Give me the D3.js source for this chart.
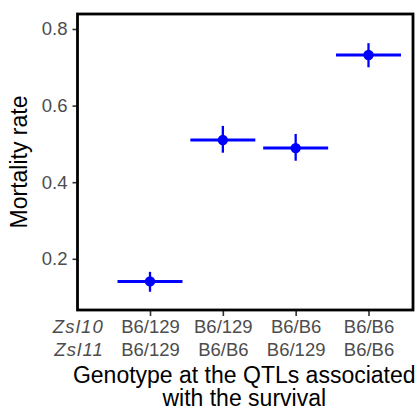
<!DOCTYPE html>
<html>
<head>
<meta charset="utf-8">
<script src="https://cdn.jsdelivr.net/npm/d3@7"></script>
<style>
  html, body { margin: 0; padding: 0; background: #fff; }
  svg { display: block; font-family: "Liberation Sans", Arial, Helvetica, sans-serif; }
</style>
</head>
<body>
<svg id="chart" width="420" height="410"></svg>
<script>
// ---- data ----
const zsl10Genotype = ["B6/129", "B6/129", "B6/B6", "B6/B6"];
const zsl11Genotype = ["B6/129", "B6/B6", "B6/129", "B6/B6"];
const mortalityRate = [0.141, 0.510, 0.489, 0.732];
const mortalityLower = [0.114, 0.477, 0.456, 0.700];
const mortalityUpper = [0.166, 0.547, 0.526, 0.763];
const yTickValues = [0.2, 0.4, 0.6, 0.8];
const locusNames = ["Zsl10", "Zsl11"];
const yTitle = "Mortality rate";
const xTitleLines = ["Genotype at the QTLs associated", "with the survival"];

// ---- layout ----
const svg = d3.select("#chart");
const panel = { left: 77.5, right: 413, top: 14, bottom: 310 };
const groups = d3.range(zsl10Genotype.length);

const x = d3.scalePoint()
  .domain(groups)
  .range([panel.left + 72.5, panel.right - 44.5]);
const step = x.step();

// y: 383 px per unit; 0.8 sits 15 px below the panel top
const y = d3.scaleLinear()
  .domain([0.8 + 15 / 383, 0.8 - (panel.bottom - 29) / 383])
  .range([panel.top, panel.bottom]);

const grey = "#4D4D4D";
const blue = "#0000FF";
const tickFont = 18.5;

// y axis
const yAxis = svg.append("g")
  .attr("transform", `translate(${panel.left},0)`)
  .call(d3.axisLeft(y).tickValues(yTickValues).tickFormat(d3.format(".1f")).tickSize(5).tickPadding(5));
yAxis.select(".domain").remove();
yAxis.selectAll(".tick line").attr("stroke", "#333").attr("stroke-width", 1.6);
yAxis.selectAll(".tick text")
  .attr("fill", grey)
  .style("font-size", tickFont + "px")
  .style("font-family", "'Liberation Sans', Arial, sans-serif");

// x axis
const xAxis = svg.append("g")
  .attr("transform", `translate(0,${panel.bottom})`)
  .call(d3.axisBottom(x).tickFormat(() => "").tickSize(6));
xAxis.select(".domain").remove();
xAxis.selectAll(".tick line").attr("stroke", "#333").attr("stroke-width", 1.6);
xAxis.selectAll(".tick").each(function(d) {
  const g = d3.select(this);
  g.select("text").remove();
  [zsl10Genotype[d], zsl11Genotype[d]].forEach((t, i) => {
    g.append("text")
      .attr("x", 0)
      .attr("y", 23 + i * 22.5)
      .attr("text-anchor", "middle")
      .attr("fill", grey)
      .style("font-size", tickFont + "px")
      .text(t);
  });
});

// locus labels (italic)
locusNames.forEach((name, i) => {
  svg.append("text")
    .attr("x", 104)
    .attr("y", panel.bottom + 23 + i * 22.5)
    .attr("text-anchor", "end")
    .attr("fill", grey)
    .style("font-size", tickFont + "px")
    .style("font-style", "italic")
    .style("letter-spacing", "1.2px")
    .text(name);
});

// panel border
svg.append("rect")
  .attr("x", panel.left)
  .attr("y", panel.top)
  .attr("width", panel.right - panel.left)
  .attr("height", panel.bottom - panel.top)
  .attr("fill", "none")
  .attr("stroke", "#000")
  .attr("stroke-width", 2.8);

// marks
const marks = svg.append("g");
marks.selectAll("line.h").data(groups).join("line")
  .attr("class", "h")
  .attr("x1", d => x(d) - step * 0.446)
  .attr("x2", d => x(d) + step * 0.446)
  .attr("y1", d => y(mortalityRate[d]))
  .attr("y2", d => y(mortalityRate[d]))
  .attr("stroke", blue)
  .attr("stroke-width", 3);
marks.selectAll("line.v").data(groups).join("line")
  .attr("class", "v")
  .attr("x1", d => x(d))
  .attr("x2", d => x(d))
  .attr("y1", d => y(mortalityLower[d]))
  .attr("y2", d => y(mortalityUpper[d]))
  .attr("stroke", blue)
  .attr("stroke-width", 2.3);
marks.selectAll("circle").data(groups).join("circle")
  .attr("cx", d => x(d))
  .attr("cy", d => y(mortalityRate[d]))
  .attr("r", 5.2)
  .attr("fill", blue);

// titles
svg.append("text")
  .attr("transform", `translate(27,${(panel.top + panel.bottom) / 2}) rotate(-90)`)
  .attr("text-anchor", "middle")
  .attr("fill", "#000")
  .style("font-size", "23px")
  .text(yTitle);

xTitleLines.forEach((t, i) => {
  svg.append("text")
    .attr("x", (panel.left + panel.right) / 2 - 1)
    .attr("y", 382.5 + i * 23.5)
    .attr("text-anchor", "middle")
    .attr("fill", "#000")
    .style("font-size", "23px")
    .text(t);
});
</script>
</body>
</html>
